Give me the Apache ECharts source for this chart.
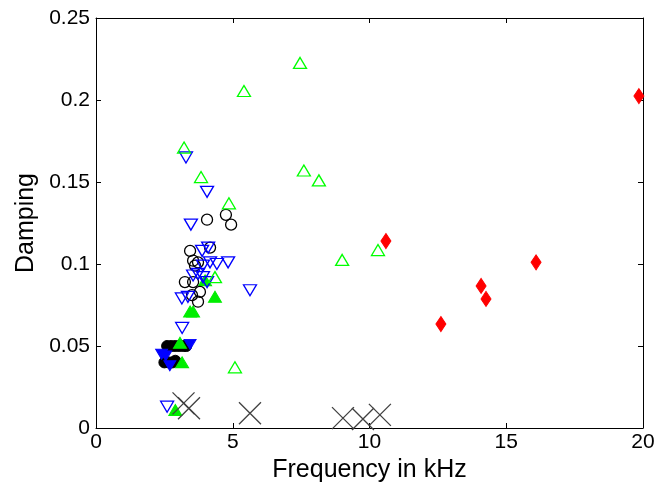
<!DOCTYPE html>
<html><head><meta charset="utf-8">
<script src="https://cdn.jsdelivr.net/npm/echarts@6/dist/echarts.min.js"></script>
<style>html,body{margin:0;padding:0;background:#fff}#c{width:670px;height:491px}</style>
</head><body><div id="c"></div>
<script>
// Data: [frequency kHz, damping]
var greenOpenUp = [[3.22,0.171],[7.46,0.2226],[5.41,0.2055],[3.84,0.153],[4.86,0.137],[7.6,0.157],[8.15,0.151],[9.0,0.1025],[10.31,0.1085],[5.08,0.037],[4.35,0.092]];
var greenFilledUp = [[3.44,0.071],[3.55,0.071],[4.35,0.080],[3.99,0.090],[3.15,0.040],[3.07,0.052],[2.9,0.011]];
var blueOpenDown = [[3.29,0.165],[4.06,0.144],[3.47,0.124],[3.88,0.108],[4.1,0.110],[4.42,0.100],[4.83,0.101],[4.17,0.101],[3.91,0.099],[3.55,0.093],[3.73,0.094],[3.91,0.092],[4.06,0.089],[3.14,0.079],[3.36,0.080],[5.63,0.084],[3.15,0.061],[2.6,0.013]];
var blueFilledDown = [[2.4,0.045],[2.55,0.044],[3.44,0.051],[2.7,0.038]];
var blackOpenCircle = [[4.06,0.127],[4.75,0.130],[4.94,0.124],[3.44,0.108],[4.17,0.110],[3.62,0.099],[3.55,0.102],[3.73,0.101],[3.25,0.089],[3.55,0.089],[3.8,0.083],[3.51,0.081],[3.73,0.077]];
var blackFilledCircle = [[2.6,0.050],[2.75,0.050],[2.9,0.050],[3.05,0.050],[3.2,0.050],[3.3,0.050],[2.5,0.040],[2.65,0.040],[2.8,0.040],[2.9,0.041]];
var grayCross = [[3.2,0.015],[3.4,0.012],[5.63,0.009],[9.03,0.006],[9.76,0.0055],[10.38,0.008]];
var redDiamond = [[10.6,0.114],[12.61,0.0634],[14.08,0.0866],[14.26,0.0787],[16.09,0.101],[19.85,0.2024]];
var xTicks = [0,5,10,15,20];
var yTicks = [0,0.05,0.1,0.15,0.2,0.25];

var chart = echarts.init(document.getElementById('c'));
var font = 'Liberation Sans, Arial, sans-serif';
var crossPath = 'path://M0,0L10,10M10,0L0,10';
function axisCommon(show){
  return {
    axisLine:{show:true,onZero:false,lineStyle:{color:'#000',width:1}},
    axisTick:{show:true,inside:true,length:5,lineStyle:{color:'#000'}},
    splitLine:{show:false},
    axisLabel:{show:show,color:'#000',fontFamily:font,fontSize:21}
  };
}
var xa = Object.assign({type:'value',min:xTicks[0],max:xTicks[xTicks.length-1],interval:5,position:'bottom',
  name:'Frequency in kHz',nameLocation:'middle',nameGap:26,nameTextStyle:{color:'#000',fontFamily:font,fontSize:25}},axisCommon(true));
xa.axisLabel.margin=4;
var xa2 = Object.assign({type:'value',min:0,max:20,interval:5,position:'top'},axisCommon(false));
var ya = Object.assign({type:'value',min:yTicks[0],max:yTicks[yTicks.length-1],interval:0.05,position:'left',
  name:'Damping',nameLocation:'middle',nameGap:54,nameTextStyle:{color:'#000',fontFamily:font,fontSize:25}},axisCommon(true));
ya.axisLabel.margin=6;
var ya2 = Object.assign({type:'value',min:0,max:0.25,interval:0.05,position:'right'},axisCommon(false));

function s(data, symbol, size, fill, stroke, bw, rot){
  return {type:'scatter',data:data,symbol:symbol,symbolSize:size,symbolRotate:rot||0,
    itemStyle:{color:fill,borderColor:stroke,borderWidth:bw,opacity:1},silent:true,xAxisIndex:0,yAxisIndex:0};
}
chart.setOption({
  animation:false,
  backgroundColor:'#fff',
  grid:{left:96,right:27,top:18,bottom:63,containLabel:false},
  xAxis:[xa,xa2],
  yAxis:[ya,ya2],
  series:[
    s(blackFilledCircle,'circle',11,'#000','#000',1),
    s(blueFilledDown,'triangle',[12,10],'#0000ff','#0000ff',1,180),
    s(greenFilledUp,'triangle',[13,11],'#00ee00','#00ee00',1),
    s(blackOpenCircle,'circle',11,'none','#000',1.3),
    s(blueOpenDown,'triangle',[13,11],'none','#0000ff',1.3,180),
    s(greenOpenUp,'triangle',[13,11],'none','#00ff00',1.3),
    s(grayCross,crossPath,22,'none','#404040',1.3),
    s(redDiamond,'diamond',[10,15],'#ff0000','#ff0000',1)
  ]
});
</script></body></html>
